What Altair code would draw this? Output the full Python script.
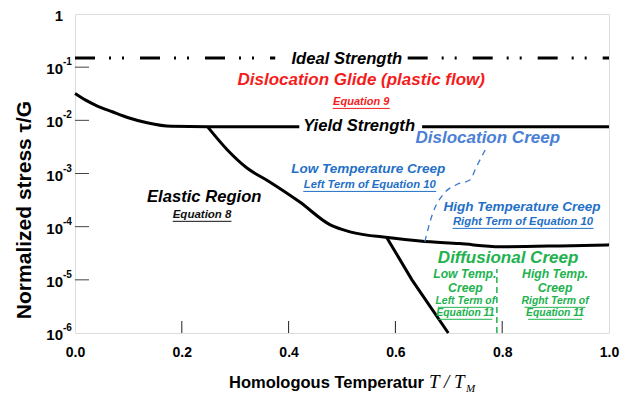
import altair as alt
import pandas as pd

FONT = "Liberation Sans"

# ---- curve data (homologous temperature, normalized stress) ----
yield_left_x = [0.0, 0.02, 0.04, 0.07, 0.10, 0.135, 0.18, 0.25, 0.42]
yield_left_y = [0.032, 0.024, 0.019, 0.0145, 0.0112, 0.0090, 0.0077, 0.0076, 0.0076]
yield_right_x = [0.65, 1.0]
yield_right_y = [0.0076, 0.0076]
elastic_x = [0.248, 0.285, 0.322, 0.361, 0.421, 0.478, 0.515, 0.59, 0.646, 0.72, 0.796, 0.908, 1.0]
elastic_y = [0.0076, 0.0028, 0.00127, 0.00073, 0.00029, 0.000108, 8.0e-5, 6.2e-5, 5.4e-5, 4.8e-5, 4.2e-5, 4.35e-5, 4.55e-5]
steep_x = [0.584, 0.631, 0.699]
steep_y = [6.2e-5, 1.0e-5, 1.0e-6]

ideal_left_x = [0.0, 0.375]
ideal_right_x = [0.623, 1.0]
ideal_y = 0.149

disl_creep_x = [0.655, 0.670, 0.689, 0.715, 0.740, 0.751, 0.768]
disl_creep_y = [5.2e-5, 1.8e-4, 4.0e-4, 6.2e-4, 7.6e-4, 1.29e-3, 2.75e-3]

diff_split_x = [0.79, 0.79]
diff_split_y = [1.0e-6, 1.6e-5]

x_ticks = [0.0, 0.2, 0.4, 0.6, 0.8, 1.0]
y_ticks = [1e-6, 1e-5, 1e-4, 1e-3, 1e-2, 1e-1, 1.0]
y_tick_base = ["10", "10", "10", "10", "10", "10", "1"]
y_tick_exp = ["-6", "-5", "-4", "-3", "-2", "-1", ""]

# ---- annotation text ----
black_big = ["Ideal Strength", "Yield Strength", "Elastic Region"]
black_big_x = [0.509, 0.532, 0.242]
black_big_y = [0.1426, 0.00785, 3.63e-4]

region_titles = ["Dislocation Glide (plastic flow)", "Dislocation Creep", "Diffusional Creep"]
region_titles_x = [0.536, 0.773, 0.811]
region_titles_y = [0.0575, 0.00468, 2.6e-5]
region_titles_c = ["#f51c1c", "#4a80d6", "#21b24e"]

sub_titles = ["Low Temperature Creep", "High Temperature Creep", "Low Temp.", "Creep", "High Temp.", "Creep"]
sub_titles_x = [0.549, 0.837, 0.730, 0.731, 0.899, 0.899]
sub_titles_y = [1.22e-3, 2.36e-4, 1.30e-5, 6.9e-6, 1.30e-5, 6.9e-6]
sub_titles_c = ["#1f70c6", "#1f70c6", "#21b24e", "#21b24e", "#21b24e", "#21b24e"]
sub_titles_s = [13.5, 13.5, 12.2, 12.2, 12.2, 12.2]

refs = ["Equation 9", "Left Term of Equation 10", "Right Term of Equation 10", "Equation 8",
        "Left Term of", "Equation 11", "Right Term of", "Equation 11"]
refs_x = [0.536, 0.552, 0.839, 0.238, 0.731, 0.731, 0.899, 0.899]
refs_y = [0.0222, 6.1e-4, 1.23e-4, 1.67e-4, 4.03e-6, 2.4e-6, 4.03e-6, 2.4e-6]
refs_w = [0.107, 0.249, 0.264, 0.110, 0.103, 0.101, 0.114, 0.101]
refs_c = ["#f51c1c", "#1f70c6", "#1f70c6", "#111111", "#21b24e", "#21b24e", "#21b24e", "#21b24e"]
refs_s = [11, 11.3, 11.3, 11.5, 10.4, 10.4, 10.4, 10.4]

W, H = 534, 319

xs = alt.Scale(domain=[0, 1], nice=False, zero=False)
ys = alt.Scale(type="log", domain=[1e-6, 1], nice=False)

X = alt.X("x:Q", scale=xs, title=None,
          axis=alt.Axis(values=x_ticks, format=".1f", ticks=False, domain=False, grid=False,
                        labelFont=FONT, labelFontWeight="bold", labelFontSize=14,
                        labelColor="#000", labelPadding=12, labelFlush=False))
Y = alt.Y("y:Q", scale=ys, title=None,
          axis=alt.Axis(values=y_ticks, labels=False, ticks=False, domain=False, grid=False))


def seg_frame(name, xs_, ys_):
    return pd.DataFrame({"x": xs_, "y": ys_, "seg": name, "i": range(len(xs_))})


curved = pd.concat([
    seg_frame("yield_left", yield_left_x, yield_left_y),
    seg_frame("elastic", elastic_x, elastic_y),
])
curved_lines = alt.Chart(curved).mark_line(color="#000", strokeWidth=3, interpolate="monotone").encode(
    x=X, y=Y, detail="seg:N", order="i:Q")

straight = pd.concat([
    seg_frame("yield_right", yield_right_x, yield_right_y),
    seg_frame("steep", steep_x, steep_y),
])
straight_lines = alt.Chart(straight).mark_line(color="#000", strokeWidth=3).encode(
    x=X, y=Y, detail="seg:N", order="i:Q")

ideal = pd.concat([
    seg_frame("l", ideal_left_x, [ideal_y, ideal_y]),
    seg_frame("r", ideal_right_x, [ideal_y, ideal_y]),
])
ideal_line = alt.Chart(ideal).mark_line(color="#000", strokeWidth=3,
                                        strokeDash=[20, 14, 2, 11, 2, 16]).encode(
    x=X, y=Y, detail="seg:N", order="i:Q")

creep_line = alt.Chart(seg_frame("c", disl_creep_x, disl_creep_y)).mark_line(
    color="#3a78d0", strokeWidth=1.3, strokeDash=[6, 5], interpolate="monotone").encode(
    x=X, y=Y, order="i:Q")

diff_line = alt.Chart(seg_frame("d", diff_split_x, diff_split_y)).mark_line(
    color="#21b24e", strokeWidth=1.5, strokeDash=[6, 4]).encode(x=X, y=Y, order="i:Q")

# inward tick marks
xt = alt.Chart(pd.DataFrame({"x": x_ticks[1:-1]})).mark_rule(color="#222", strokeWidth=1).encode(
    x=X, y=alt.value(H), y2=alt.value(H - 12))
yt = alt.Chart(pd.DataFrame({"y": y_ticks[1:-1]})).mark_rule(color="#444", strokeWidth=1).encode(
    y=Y, x=alt.value(0), x2=alt.value(14))

# y tick labels written as base + raised exponent
ylab = pd.DataFrame({"y": y_ticks, "b": y_tick_base, "e": y_tick_exp})
ylab_base = alt.Chart(ylab).mark_text(
    font=FONT, fontWeight="bold", fontSize=15, align="right", baseline="middle", dy=2,
    color="#000").encode(y=Y, x=alt.value(-12), text="b:N")
ylab_exp = alt.Chart(ylab).mark_text(
    font=FONT, fontWeight="bold", fontSize=10, align="left", baseline="middle", dy=-5,
    color="#000").encode(y=Y, x=alt.value(-12), text="e:N")

big_black = alt.Chart(pd.DataFrame({"t": black_big, "x": black_big_x, "y": black_big_y})).mark_text(
    font=FONT, fontWeight="bold", fontStyle="italic", fontSize=16.6, color="#000", baseline="middle").encode(
    x=X, y=Y, text="t:N")

regions = alt.Chart(pd.DataFrame({"t": region_titles, "x": region_titles_x, "y": region_titles_y,
                                  "c": region_titles_c})).mark_text(
    font=FONT, fontWeight="bold", fontStyle="italic", fontSize=17, baseline="middle").encode(
    x=X, y=Y, text="t:N", color=alt.Color("c:N", scale=None))

subs = alt.Chart(pd.DataFrame({"t": sub_titles, "x": sub_titles_x, "y": sub_titles_y,
                               "c": sub_titles_c, "s": sub_titles_s})).mark_text(
    font=FONT, fontWeight="bold", fontStyle="italic", baseline="middle").encode(
    x=X, y=Y, text="t:N", color=alt.Color("c:N", scale=None), size=alt.Size("s:Q", scale=None))

ref_df = pd.DataFrame({"t": refs, "x": refs_x, "y": refs_y, "c": refs_c, "s": refs_s, "w": refs_w})
ref_df["x0"] = ref_df["x"] - ref_df["w"] / 2
ref_df["x1"] = ref_df["x"] + ref_df["w"] / 2
ref_text = alt.Chart(ref_df).mark_text(
    font=FONT, fontWeight="bold", fontStyle="italic", baseline="middle").encode(
    x=X, y=Y, text="t:N", color=alt.Color("c:N", scale=None), size=alt.Size("s:Q", scale=None))
ref_under = alt.Chart(ref_df).mark_rule(strokeWidth=1, yOffset=6.5).encode(
    x=alt.X("x0:Q", scale=xs), x2="x1:Q", y=Y, color=alt.Color("c:N", scale=None))

# axis titles
y_title = alt.Chart(pd.DataFrame({"t": ["Normalized stress τ/G"]})).mark_text(
    font=FONT, fontWeight="bold", fontSize=21, angle=270, align="center", baseline="middle",
    color="#000").encode(text="t:N", x=alt.value(-50), y=alt.value(196))
x_title = alt.Chart(pd.DataFrame({"t": ["Homologous Temperatur"]})).mark_text(
    font=FONT, fontWeight="bold", fontSize=16.5, align="right", baseline="middle",
    color="#000").encode(text="t:N", x=alt.value(349), y=alt.value(369))
x_title_sym = alt.Chart(pd.DataFrame({"t": ["T / T"]})).mark_text(
    font="Liberation Serif", fontStyle="italic", fontSize=19, align="left", baseline="middle",
    color="#000").encode(text="t:N", x=alt.value(354), y=alt.value(368))
x_title_sub = alt.Chart(pd.DataFrame({"t": ["M"]})).mark_text(
    font="Liberation Serif", fontStyle="italic", fontSize=11, align="left", baseline="middle",
    color="#000").encode(text="t:N", x=alt.value(391), y=alt.value(375))

chart = alt.layer(
    curved_lines, straight_lines, ideal_line, creep_line, diff_line, xt, yt,
    ylab_base, ylab_exp,
    big_black, regions, subs, ref_text, ref_under,
    y_title, x_title, x_title_sym, x_title_sub,
).properties(
    width=W, height=H,
    autosize=alt.AutoSizeParams(type="none"),
    padding={"left": 75, "top": 14, "right": 21, "bottom": 63},
).configure_view(
    stroke="#000", strokeWidth=2.5
).configure(background="white")

chart.save("out.html", embed_options={"renderer": "svg", "actions": False})
